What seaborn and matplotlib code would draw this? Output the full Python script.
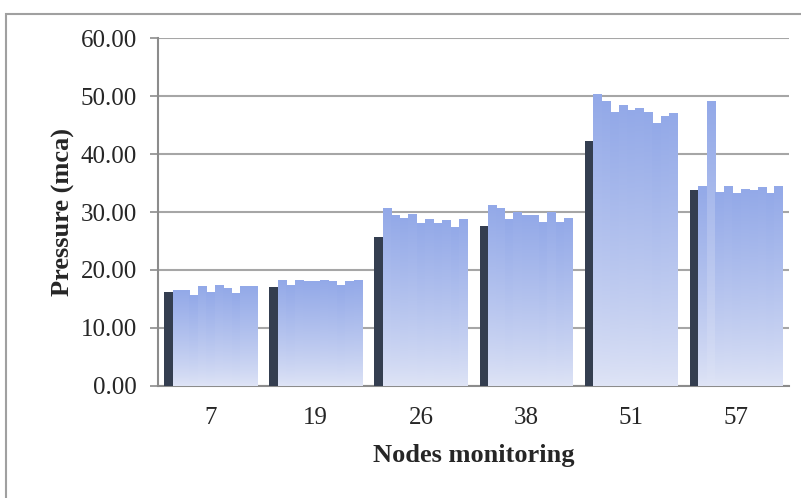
import matplotlib
matplotlib.use("Agg")
import matplotlib.pyplot as plt
from matplotlib.colors import LinearSegmentedColormap, to_rgba
from matplotlib.patches import Rectangle
import numpy as np
import pandas as pd
import seaborn as sns

# node labels on the x axis
nodes = ['7', '19', '26', '38', '51', '57']

# measured pressure (dark bar, first in each group)
measured = [16.2, 17.1, 25.7, 27.6, 42.3, 33.8]

# simulated pressures, 10 runs per node (light gradient bars)
sim_7 = [16.5, 16.5, 15.7, 17.1, 16.2, 17.4, 16.9, 16.0, 17.1, 17.1]
sim_19 = [18.3, 17.3, 18.3, 18.1, 18.1, 18.3, 18.1, 17.3, 18.0, 18.3]
sim_26 = [30.7, 29.5, 29.0, 29.7, 28.1, 28.7, 28.1, 28.5, 27.3, 28.8]
sim_38 = [31.2, 30.7, 28.7, 30.0, 29.5, 29.5, 28.3, 30.0, 28.3, 29.0]
sim_51 = [50.3, 49.2, 47.2, 48.5, 47.5, 48.0, 47.2, 45.4, 46.6, 47.0]
sim_57 = [34.5, 49.1, 33.5, 34.5, 33.3, 34.0, 33.7, 34.2, 33.3, 34.5]
simulated = [sim_7, sim_19, sim_26, sim_38, sim_51, sim_57]

dark = '#343E50'
light = '#93A9E8'
light_bottom = '#E0E5F6'

series = ['measured'] + ['sim%d' % (k + 1) for k in range(10)]
rows = []
for i, n in enumerate(nodes):
    rows.append((n, series[0], measured[i]))
    for k in range(10):
        rows.append((n, series[k + 1], simulated[i][k]))
df = pd.DataFrame(rows, columns=['node', 'series', 'pressure'])

palette = {s: (dark if s == 'measured' else light) for s in series}

sns.set_style('white')
plt.rcParams['font.family'] = ['Liberation Serif', 'DejaVu Serif']

fig = plt.figure(figsize=(8.01, 4.98), dpi=100)
ax = fig.add_axes([158 / 801, 1 - 385.7 / 498, (789 - 158) / 801, (385.7 - 38.3) / 498])

sns.barplot(data=df, x='node', y='pressure', hue='series', order=nodes,
            hue_order=series, palette=palette, saturation=1, width=0.885, gap=0,
            linewidth=0, legend=False, ax=ax, zorder=3)

# vertical gradient fill on the simulated bars
cmap = LinearSegmentedColormap.from_list('grad', [light_bottom, light], N=1024)
grad = np.linspace(0, 1, 1024).reshape(-1, 1) ** 0.8
light_rgba = to_rgba(light)
for p in list(ax.patches):
    if np.allclose(p.get_facecolor(), light_rgba, atol=0.02):
        x0, w, h = p.get_x(), p.get_width(), p.get_height()
        p.set_visible(False)
        ax.imshow(grad, cmap=cmap, origin='lower', aspect='auto', vmin=0, vmax=1,
                  extent=[x0, x0 + w, 0, h], zorder=3, interpolation='bilinear')

ax.set_xlim(-0.5, len(nodes) - 0.5)
ax.set_ylim(0, 60)
ax.set_yticks(np.arange(0, 61, 10))
ax.set_yticklabels(['%.2f' % v for v in np.arange(0, 61, 10)], fontsize=18)
ax.set_xticks(range(len(nodes)))
ax.set_xticklabels(nodes, fontsize=18)
ax.set_xticks(np.arange(-0.5, len(nodes)), minor=True)
ax.tick_params(axis='x', which='major', length=0, pad=15)
ax.tick_params(axis='x', which='minor', length=8, width=1.2, color='#8C8C8C', direction='out')
ax.tick_params(axis='y', length=6, width=1.2, color='#8C8C8C', direction='out', pad=9, left=True)

ax.grid(axis='y', color='#A6A6A6', linewidth=1.5, zorder=0)
ax.set_axisbelow(True)
for s in ['top', 'right']:
    ax.spines[s].set_visible(False)
for s in ['left', 'bottom']:
    ax.spines[s].set_color('#8C8C8C')
    ax.spines[s].set_linewidth(1.5)

ax.set_xlabel('Nodes monitoring', fontsize=19, fontweight='bold', labelpad=11)
ax.set_ylabel('Pressure (mca)', fontsize=19, fontweight='bold', labelpad=4)

# outer chart frame
fig.patches.append(Rectangle((6 / 801, -0.1), 1.2, 1 - 14 / 498 + 0.1,
                             transform=fig.transFigure, fill=False,
                             edgecolor='#A0A0A0', linewidth=1.5))

fig.savefig('out.png', dpi=100)
